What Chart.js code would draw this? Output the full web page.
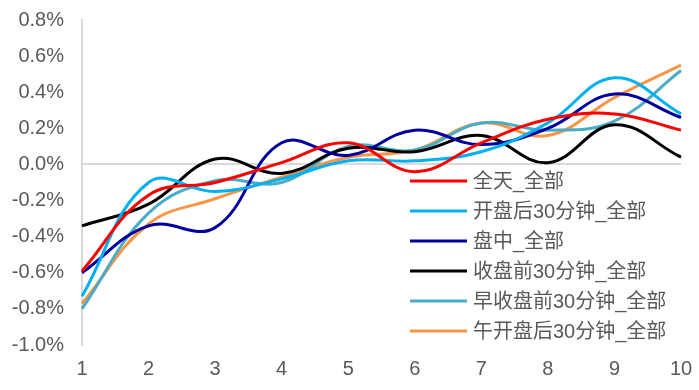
<!DOCTYPE html>
<html>
<head>
<meta charset="utf-8">
<script src="https://cdn.jsdelivr.net/npm/chart.js@4.4.0/dist/chart.umd.min.js"></script>
<style>
  html, body { margin: 0; padding: 0; background: #ffffff; }
  #chart-container { width: 699px; height: 390px; }
</style>
</head>
<body>
<div id="chart-container">
  <canvas id="chart-canvas"></canvas>
</div>
<script>
// categories (x axis)
var categories = ["1", "2", "3", "4", "5", "6", "7", "8", "9", "10"];

// series values, in percent
var seriesNames = [
  "全天_全部",
  "开盘后30分钟_全部",
  "盘中_全部",
  "收盘前30分钟_全部",
  "早收盘前30分钟_全部",
  "午开盘后30分钟_全部"
];
var allDay        = [-0.59, -0.17, -0.10,  0.01, 0.12, -0.04, 0.12, 0.25, 0.28, 0.19];
var afterOpen30   = [-0.73, -0.10, -0.15, -0.08, 0.02,  0.02, 0.07, 0.23, 0.48, 0.28];
var intraday      = [-0.60, -0.34, -0.35,  0.12, 0.05,  0.19, 0.11, 0.20, 0.39, 0.26];
var beforeClose30 = [-0.34, -0.22,  0.03, -0.05, 0.09,  0.07, 0.16, 0.01, 0.22, 0.04];
var amClose30     = [-0.80, -0.27, -0.09, -0.10, 0.10,  0.08, 0.23, 0.19, 0.24, 0.52];
var pmOpen30      = [-0.77, -0.33, -0.19, -0.07, 0.04,  0.08, 0.23, 0.16, 0.37, 0.55];

// y tick range
var yMin = -1.0;
var yMax = 0.8;
var yStep = 0.2;

var seriesValues = [allDay, afterOpen30, intraday, beforeClose30, amClose30, pmOpen30];
var seriesColors = ["#ff0000", "#00b0f0", "#0000a0", "#000000", "#4bacc6", "#f79646"];

var textColor = "#595959";
var fontFamily = "'Liberation Sans', Arial, 'Noto Sans CJK SC', sans-serif";

// legend drawn inside the plot area, bottom right
var legendInside = {
  id: "legendInside",
  afterDraw: function(chart) {
    var ctx = chart.ctx;
    ctx.save();
    ctx.font = "20px " + fontFamily;
    ctx.textBaseline = "middle";
    ctx.textAlign = "left";
    chart.data.datasets.forEach(function(ds, i) {
      var y = 181 + i * 30;
      ctx.strokeStyle = ds.borderColor;
      ctx.lineWidth = 3;
      ctx.beginPath();
      ctx.moveTo(410, y);
      ctx.lineTo(467, y);
      ctx.stroke();
      ctx.fillStyle = textColor;
      ctx.fillText(ds.label, 473, y + 1);
    });
    ctx.restore();
  }
};

var ctx = document.getElementById("chart-canvas");

var chartCanvas = new Chart(ctx, {
  type: "line",
  data: {
    labels: categories,
    datasets: seriesNames.map(function(name, i) {
      return {
        label: name,
        data: seriesValues[i],
        borderColor: seriesColors[i],
        backgroundColor: seriesColors[i],
        borderWidth: 3,
        pointRadius: 0,
        tension: 0.4,
        fill: false
      };
    })
  },
  options: {
    responsive: true,
    maintainAspectRatio: false,
    animation: false,
    layout: {
      padding: { top: 20, right: 18, left: 0, bottom: 0 }
    },
    plugins: {
      legend: { display: false },
      tooltip: { enabled: false }
    },
    scales: {
      x: {
        offset: false,
        grid: { display: false },
        border: { display: false },
        ticks: {
          color: textColor,
          font: { size: 20, family: fontFamily },
          padding: 4,
          maxRotation: 0
        },
        afterFit: function(scale) {
          scale.height = 45;
          scale.paddingLeft = 0;
          scale.paddingRight = 0;
        }
      },
      y: {
        min: yMin,
        max: yMax,
        grid: {
          drawTicks: false,
          lineWidth: 2,
          color: function(c) {
            return c.tick && Math.abs(c.tick.value) < 1e-9 ? "#d9d9d9" : "rgba(0,0,0,0)";
          }
        },
        border: { display: true, color: "#d9d9d9", width: 2 },
        ticks: {
          stepSize: yStep,
          color: textColor,
          font: { size: 20, family: fontFamily },
          padding: 18,
          callback: function(v) { return v.toFixed(1) + "%"; }
        },
        afterFit: function(scale) {
          scale.width = 82;
          scale.paddingTop = 0;
          scale.paddingBottom = 0;
        }
      }
    }
  },
  plugins: [legendInside]
});
</script>
</body>
</html>
